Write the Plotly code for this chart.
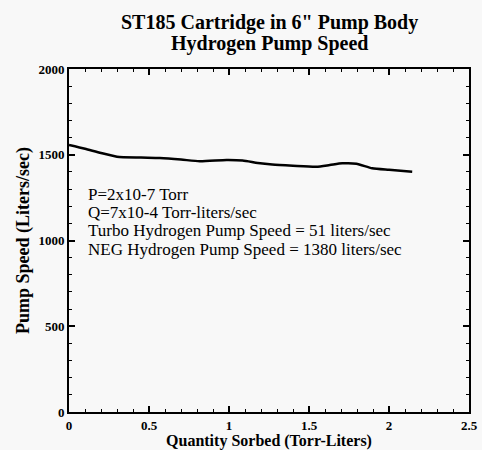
import plotly.graph_objects as go

sorbed = [0.0, 0.10, 0.20, 0.30, 0.45, 0.567, 0.70, 0.817, 0.985, 1.085, 1.18, 1.27, 1.40, 1.546, 1.63, 1.708, 1.796, 1.895, 2.00, 2.145]
speed = [1557, 1535, 1510, 1489, 1484, 1481, 1472, 1462, 1469, 1466, 1452, 1443, 1436, 1430, 1440, 1450, 1448, 1421, 1412, 1401]

x_ticks = [0, 0.5, 1, 1.5, 2, 2.5]
x_labels = ["0", "0.5", "1", "1.5", "2", "2.5"]
y_ticks = [0, 500, 1000, 1500, 2000]
y_labels = ["0", "500", "1000", "1500", "2000"]

notes = ["P=2x10-7 Torr", "Q=7x10-4 Torr-liters/sec",
         "Turbo Hydrogen Pump Speed = 51 liters/sec",
         "NEG Hydrogen Pump Speed = 1380 liters/sec"]
titles = ["ST185 Cartridge in 6\" Pump Body", "Hydrogen Pump Speed"]

FONT = "Liberation Serif"
PLOT_TOP, PLOT_BOTTOM = 69, 412
PH = PLOT_BOTTOM - PLOT_TOP

fig = go.Figure()
fig.add_trace(go.Scatter(x=sorbed, y=speed, mode="lines",
                         line=dict(color="black", width=2.5, shape="spline", smoothing=0.6),
                         showlegend=False, hoverinfo="skip"))

note_y = [194, 212, 231, 249.5]
for txt, py in zip(notes, note_y):
    fig.add_annotation(text=txt, xref="paper", yref="paper",
                       x=0.045, y=(PLOT_BOTTOM - py) / PH, xanchor="left", yanchor="middle",
                       showarrow=False, borderpad=0,
                       font=dict(family=FONT, size=17, color="black"))

title_y = [22, 43]
for txt, py in zip(titles, title_y):
    fig.add_annotation(text=f"<b>{txt}</b>", xref="paper", yref="paper",
                       x=0.5, y=(PLOT_BOTTOM - py) / PH, xanchor="center", yanchor="middle",
                       showarrow=False, borderpad=0,
                       font=dict(family=FONT, size=20, color="black"))

axis_common = dict(showline=True, linecolor="black", linewidth=2, mirror="allticks",
                   ticks="inside", ticklen=6, tickwidth=1.5, tickcolor="black",
                   showgrid=False, zeroline=False, automargin=False,
                   tickfont=dict(family=FONT, size=13, color="black"))

fig.update_xaxes(range=[0, 2.5], tickvals=x_ticks, ticktext=[f"<b>{t}</b>" for t in x_labels],
                 minor=dict(ticks="inside", dtick=0.1, ticklen=3, tickcolor="black", tickwidth=1),
                 title=dict(text="<b>Quantity Sorbed (Torr-Liters)</b>", standoff=2,
                            font=dict(family=FONT, size=16, color="black")),
                 **axis_common)
fig.update_yaxes(range=[0, 2000], tickvals=y_ticks, ticktext=[f"<b>{t}</b>" for t in y_labels],
                 minor=dict(ticks="inside", dtick=100, ticklen=3, tickcolor="black", tickwidth=1),
                 title=dict(text="<b>Pump Speed (Liters/sec)</b>", standoff=4,
                            font=dict(family=FONT, size=18, color="black")),
                 **axis_common)

fig.update_layout(width=482, height=450, margin=dict(l=69, r=13, t=PLOT_TOP, b=450 - PLOT_BOTTOM),
                  paper_bgcolor="#f8f8f8", plot_bgcolor="#f8f8f8")

fig.write_html("out.html", config={"displayModeBar": False},
               post_script="document.body.style.margin='0';document.body.style.background='#f8f8f8';")
